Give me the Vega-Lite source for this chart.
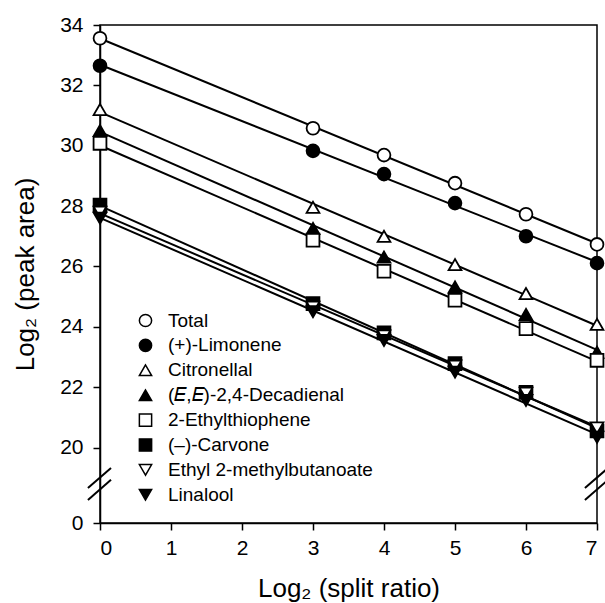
{
  "$schema": "https://vega.github.io/schema/vega-lite/v6.json",
  "width": 497,
  "height": 498,
  "autosize": "none",
  "padding": {"left": 100, "top": 25, "right": 8, "bottom": 80},
  "background": "white",
  "config": {
    "font": "Liberation Sans",
    "view": {"stroke": "black", "strokeWidth": 1.5},
    "axis": {"domainColor": "black", "tickColor": "black", "labelColor": "black", "titleColor": "black", "domainWidth": 1.5, "tickWidth": 1.5, "grid": false, "labelFont": "Liberation Sans", "titleFont": "Liberation Sans", "titleFontWeight": "normal"}
  },
  "datasets": {
    "pts": [
      {"series": "Total", "x": 0, "y": 33.56}, {"series": "Total", "x": 3, "y": 30.58}, {"series": "Total", "x": 4, "y": 29.69}, {"series": "Total", "x": 5, "y": 28.76}, {"series": "Total", "x": 6, "y": 27.73}, {"series": "Total", "x": 7, "y": 26.73},
      {"series": "(+)-Limonene", "x": 0, "y": 32.65}, {"series": "(+)-Limonene", "x": 3, "y": 29.83}, {"series": "(+)-Limonene", "x": 4, "y": 29.06}, {"series": "(+)-Limonene", "x": 5, "y": 28.1}, {"series": "(+)-Limonene", "x": 6, "y": 27.0}, {"series": "(+)-Limonene", "x": 7, "y": 26.11},
      {"series": "Citronellal", "x": 0, "y": 31.2}, {"series": "Citronellal", "x": 3, "y": 27.96}, {"series": "Citronellal", "x": 4, "y": 27.0}, {"series": "Citronellal", "x": 5, "y": 26.06}, {"series": "Citronellal", "x": 6, "y": 25.1}, {"series": "Citronellal", "x": 7, "y": 24.08},
      {"series": "(𝐸,𝐸)-2,4-Decadienal", "x": 0, "y": 30.5}, {"series": "(𝐸,𝐸)-2,4-Decadienal", "x": 3, "y": 27.26}, {"series": "(𝐸,𝐸)-2,4-Decadienal", "x": 4, "y": 26.31}, {"series": "(𝐸,𝐸)-2,4-Decadienal", "x": 5, "y": 25.32}, {"series": "(𝐸,𝐸)-2,4-Decadienal", "x": 6, "y": 24.41}, {"series": "(𝐸,𝐸)-2,4-Decadienal", "x": 7, "y": 23.16},
      {"series": "2-Ethylthiophene", "x": 0, "y": 30.08}, {"series": "2-Ethylthiophene", "x": 3, "y": 26.87}, {"series": "2-Ethylthiophene", "x": 4, "y": 25.84}, {"series": "2-Ethylthiophene", "x": 5, "y": 24.88}, {"series": "2-Ethylthiophene", "x": 6, "y": 23.94}, {"series": "2-Ethylthiophene", "x": 7, "y": 22.89},
      {"series": "(–)-Carvone", "x": 0, "y": 28.03}, {"series": "(–)-Carvone", "x": 3, "y": 24.77}, {"series": "(–)-Carvone", "x": 4, "y": 23.8}, {"series": "(–)-Carvone", "x": 5, "y": 22.78}, {"series": "(–)-Carvone", "x": 6, "y": 21.83}, {"series": "(–)-Carvone", "x": 7, "y": 20.55},
      {"series": "Ethyl 2-methylbutanoate", "x": 0, "y": 27.8}, {"series": "Ethyl 2-methylbutanoate", "x": 3, "y": 24.65}, {"series": "Ethyl 2-methylbutanoate", "x": 4, "y": 23.7}, {"series": "Ethyl 2-methylbutanoate", "x": 5, "y": 22.7}, {"series": "Ethyl 2-methylbutanoate", "x": 6, "y": 21.8}, {"series": "Ethyl 2-methylbutanoate", "x": 7, "y": 20.65},
      {"series": "Linalool", "x": 0, "y": 27.6}, {"series": "Linalool", "x": 3, "y": 24.5}, {"series": "Linalool", "x": 4, "y": 23.55}, {"series": "Linalool", "x": 5, "y": 22.5}, {"series": "Linalool", "x": 6, "y": 21.56}, {"series": "Linalool", "x": 7, "y": 20.34}
    ],
    "breaks": [
      {"x": -0.17, "y": 18.66, "x2": 0.155, "y2": 19.32},
      {"x": -0.17, "y": 18.26, "x2": 0.155, "y2": 18.93},
      {"x": 6.83, "y": 18.66, "x2": 7.155, "y2": 19.32},
      {"x": 6.83, "y": 18.26, "x2": 7.155, "y2": 18.93}
    ]
  },
  "encoding": {
    "x": {"field": "x", "type": "quantitative", "scale": {"domain": [0, 7], "nice": false, "zero": false},
      "axis": {"values": [0, 1, 2, 3, 4, 5, 6, 7], "tickSize": 7, "labelFontSize": 21, "labelPadding": 7, "title": "Log₂ (split ratio)", "titleFontSize": 26, "titlePadding": 17}},
    "y": {"field": "y", "type": "quantitative", "scale": {"domain": [17.5, 34], "nice": false, "zero": false},
      "axis": {"values": [17.5, 20, 22, 24, 26, 28, 30, 32, 34], "labelExpr": "datum.value < 19 ? '0' : datum.label", "tickSize": 7, "labelFontSize": 21, "labelPadding": 10, "title": "Log₂ (peak area)", "titleFontSize": 26, "titlePadding": 21}}
  },
  "layer": [
    {
      "data": {"name": "pts"},
      "transform": [{"regression": "y", "on": "x", "groupby": ["series"]}],
      "mark": {"type": "line", "color": "black", "strokeWidth": 2},
      "encoding": {"detail": {"field": "series"}}
    },
    {
      "data": {"name": "breaks"},
      "mark": {"type": "rule", "color": "black", "strokeWidth": 2, "clip": false},
      "encoding": {"x2": {"field": "x2"}, "y2": {"field": "y2"}}
    },
    {
      "data": {"name": "pts"},
      "mark": {"type": "point", "filled": true, "stroke": "black", "strokeWidth": 1.8, "size": 165, "opacity": 1},
      "encoding": {
        "fill": {"field": "series", "type": "nominal",
          "scale": {"domain": ["Total", "(+)-Limonene", "Citronellal", "(𝐸,𝐸)-2,4-Decadienal", "2-Ethylthiophene", "(–)-Carvone", "Ethyl 2-methylbutanoate", "Linalool"],
            "range": ["white", "black", "white", "black", "white", "black", "white", "black"]},
          "legend": {"title": null, "orient": "none", "legendX": 36, "legendY": 286, "padding": 0, "labelFontSize": 19, "labelColor": "black", "labelFont": "Liberation Sans", "symbolSize": 150, "rowPadding": 4.9, "labelOffset": 13, "labelLimit": 400,
            "encode": {"symbols": {"update": {"stroke": {"value": "black"}, "strokeWidth": {"value": 1.8}}}}}},
        "shape": {"field": "series", "type": "nominal",
          "scale": {"domain": ["Total", "(+)-Limonene", "Citronellal", "(𝐸,𝐸)-2,4-Decadienal", "2-Ethylthiophene", "(–)-Carvone", "Ethyl 2-methylbutanoate", "Linalool"],
            "range": ["circle", "circle", "triangle-up", "triangle-up", "square", "square", "triangle-down", "triangle-down"]},
          "legend": {"title": null, "orient": "none", "legendX": 36, "legendY": 286, "padding": 0, "labelFontSize": 19, "labelColor": "black", "labelFont": "Liberation Sans", "symbolSize": 150, "rowPadding": 4.9, "labelOffset": 13, "labelLimit": 400,
            "encode": {"symbols": {"update": {"stroke": {"value": "black"}, "strokeWidth": {"value": 1.8}}}}}}
      }
    }
  ]
}
